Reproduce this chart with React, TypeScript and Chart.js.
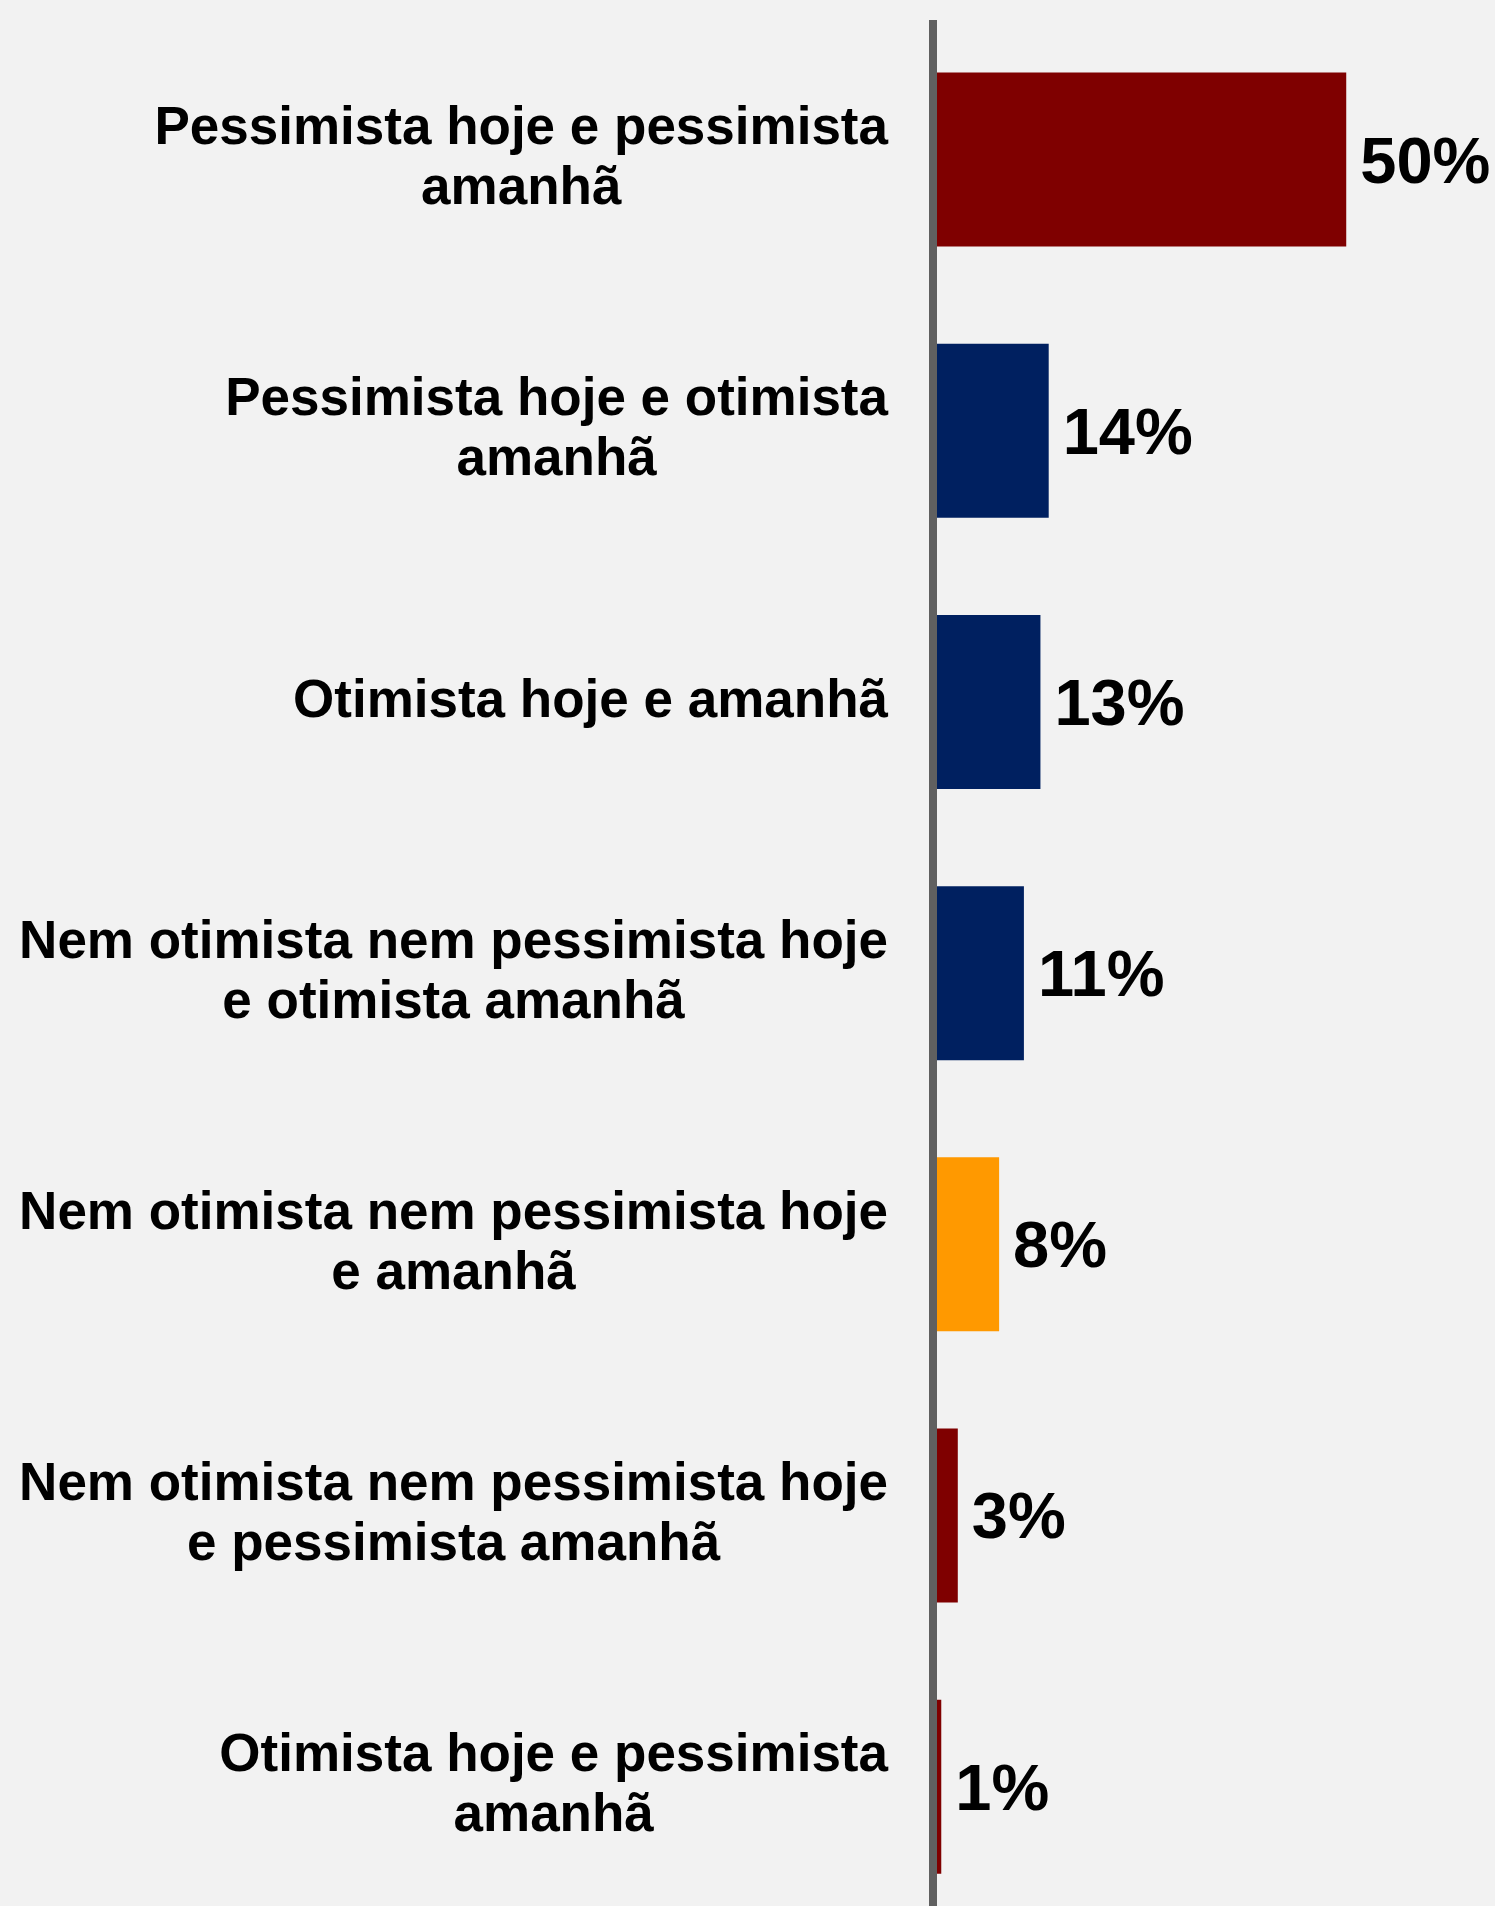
import React, { useEffect, useRef } from "react";
import { Chart, registerables } from "chart.js";

Chart.register(...registerables);

const categories: string[][] = [
  ["Pessimista hoje e pessimista", "amanhã"],
  ["Pessimista hoje e otimista", "amanhã"],
  ["Otimista hoje e amanhã"],
  ["Nem otimista nem pessimista hoje", "e otimista amanhã"],
  ["Nem otimista nem pessimista hoje", "e amanhã"],
  ["Nem otimista nem pessimista hoje", "e pessimista amanhã"],
  ["Otimista hoje e pessimista", "amanhã"],
];

const values: number[] = [50, 14, 13, 11, 8, 3, 1];

const valueLabels: string[] = ["50%", "14%", "13%", "11%", "8%", "3%", "1%"];

const barColors: string[] = [
  "#7f0000",
  "#002060",
  "#002060",
  "#002060",
  "#ff9900",
  "#7f0000",
  "#7f0000",
];

const FONT_FAMILY = '"Liberation Sans", Arial, Helvetica, sans-serif';

export default function App() {
  const canvasRef = useRef<HTMLCanvasElement | null>(null);

  useEffect(() => {
    document.body.style.margin = "0";
    document.body.style.background = "#f2f2f2";
    const canvas = canvasRef.current;
    if (!canvas) return;

    const labelPlugin = {
      id: "customLabels",
      afterDraw(chart: any) {
        const ctx = chart.ctx;
        const yScale = chart.scales.y;
        const xScale = chart.scales.x;
        ctx.save();
        // category labels: block right-aligned, lines centered within block
        ctx.font = `bold 53px ${FONT_FAMILY}`;
        ctx.fillStyle = "#000000";
        ctx.textBaseline = "middle";
        ctx.textAlign = "center";
        const rightX = chart.chartArea.left - 45;
        const lineH = 60;
        categories.forEach((lines, i) => {
          const y = yScale.getPixelForValue(i);
          let maxW = 0;
          lines.forEach((l) => {
            maxW = Math.max(maxW, ctx.measureText(l).width);
          });
          const cx = rightX - maxW / 2;
          lines.forEach((l, k) => {
            ctx.fillText(l, cx, y + (k - (lines.length - 1) / 2) * lineH);
          });
        });
        // value labels
        ctx.font = `bold 65px ${FONT_FAMILY}`;
        ctx.textAlign = "left";
        values.forEach((v, i) => {
          const y = yScale.getPixelForValue(i);
          const x = xScale.getPixelForValue(v) + 14;
          ctx.fillText(valueLabels[i], x, y + 5);
        });
        ctx.restore();
      },
    };

    const chart = new Chart(canvas, {
      type: "bar",
      data: {
        datasets: [
          {
            data: values.map((v, i) => ({ x: v, y: i })),
            backgroundColor: barColors,
            borderWidth: 0,
            categoryPercentage: 1,
            barPercentage: 0.6416,
          },
        ],
      },
      options: {
        indexAxis: "y",
        responsive: false,
        animation: false,
        devicePixelRatio: 1,
        layout: { padding: { top: 24, right: 0, bottom: 0, left: 0 } },
        plugins: {
          legend: { display: false },
          tooltip: { enabled: false },
        },
        scales: {
          x: {
            type: "linear",
            display: false,
            min: 0,
            max: 68,
          },
          y: {
            type: "linear",
            reverse: true,
            offset: false,
            min: -0.5,
            max: 6.44,
            display: true,
            afterFit: (scale: any) => {
              scale.width = 933;
            },
            ticks: {
              display: false,
              stepSize: 1,
              includeBounds: false,
            },
            grid: { display: false, offset: false },
            border: { display: true, color: "#606060", width: 8, z: 1 },
          },
        },
      },
      plugins: [labelPlugin],
    } as any);

    return () => {
      chart.destroy();
    };
  }, []);

  return (
    <div style={{ width: 1495, height: 1906, background: "#f2f2f2" }}>
      <canvas ref={canvasRef} width={1495} height={1906} style={{ display: "block" }} />
    </div>
  );
}
